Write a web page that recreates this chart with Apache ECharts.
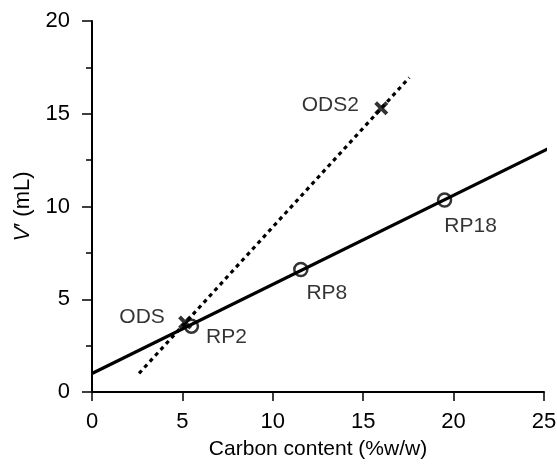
<!DOCTYPE html>
<html>
<head>
<meta charset="utf-8">
<script src="https://cdn.jsdelivr.net/npm/echarts@6/dist/echarts.min.js"></script>
<style>
  html, body { margin: 0; padding: 0; background: #fff; }
  #chart { width: 557px; height: 464px; }
</style>
</head>
<body>
<div id="chart"></div>
<script>
// RP phases (circles)
var rpNames = ['RP2', 'RP8', 'RP18'];
var rpCarbon = [5.5, 11.55, 19.5];
var rpV = [3.55, 6.6, 10.35];

// ODS phases (crosses)
var odsNames = ['ODS', 'ODS2'];
var odsCarbon = [5.15, 16.0];
var odsV = [3.75, 15.3];

// fitted lines, end points
var rpFitX = [0, 25.4];
var rpFitY = [1.0, 13.2];
var odsFitX = [2.6, 17.55];
var odsFitY = [1.0, 16.95];

var xTicks = [0, 5, 10, 15, 20, 25];
var yTicks = [0, 5, 10, 15, 20];

// label placement (px offsets from the marker)
var rpLabelOffset = [[35, 11], [26, 24], [26, 26]];
var odsLabelOffset = [[-43, -5], [-51, -3]];

var FONT = '"Liberation Sans", Arial, sans-serif';
var crossPath = 'path://M2,0 L5,3 L8,0 L10,2 L7,5 L10,8 L8,10 L5,7 L2,10 L0,8 L3,5 L0,2 Z';

function pairs(xs, ys) {
    return xs.map(function (x, i) { return [x, ys[i]]; });
}

function points(names, xs, ys, offsets) {
    return names.map(function (n, i) {
        return {
            name: n,
            value: [xs[i], ys[i]],
            label: { offset: offsets[i] }
        };
    });
}

var labelStyle = {
    show: true,
    position: 'inside',
    formatter: '{b}',
    color: '#000',
    fontFamily: FONT,
    fontSize: 21
};

var axisLineStyle = { color: '#000', width: 2 };

var chart = echarts.init(document.getElementById('chart'));
chart.setOption({
    backgroundColor: '#fff',
    animation: false,
    grid: { left: 92, right: 13, top: 21, bottom: 72, containLabel: false, outerBoundsMode: 'none' },
    xAxis: {
        type: 'value',
        min: xTicks[0],
        max: xTicks[xTicks.length - 1],
        interval: 5,
        name: 'Carbon content (%w/w)',
        nameLocation: 'middle',
        nameGap: 47,
        nameTextStyle: { color: '#000', fontFamily: FONT, fontSize: 21 },
        axisLine: { lineStyle: axisLineStyle },
        axisTick: { length: 9, lineStyle: { color: '#000', width: 1.5 } },
        axisLabel: { color: '#000', fontFamily: FONT, fontSize: 22, margin: 19 },
        splitLine: { show: false }
    },
    yAxis: {
        type: 'value',
        min: yTicks[0],
        max: yTicks[yTicks.length - 1],
        interval: 5,
        name: '{i|V}′ (mL)',
        nameLocation: 'middle',
        nameGap: 58,
        nameTextStyle: {
            color: '#000', fontFamily: FONT, fontSize: 22,
            rich: { i: { fontStyle: 'italic', fontFamily: FONT, fontSize: 22, color: '#000' } }
        },
        axisLine: { lineStyle: axisLineStyle },
        axisTick: { length: 10, lineStyle: { color: '#000', width: 1.5 } },
        minorTick: { show: true, splitNumber: 2, length: 6, lineStyle: { color: '#000', width: 1.5 } },
        axisLabel: { color: '#000', fontFamily: FONT, fontSize: 22, margin: 22 },
        splitLine: { show: false }
    },
    series: [
        {
            type: 'line',
            clip: false,
            symbol: 'none',
            data: pairs(rpFitX, rpFitY),
            lineStyle: { color: '#000', width: 3.2 }
        },
        {
            type: 'line',
            clip: false,
            symbol: 'none',
            data: pairs(odsFitX, odsFitY),
            lineStyle: { color: '#000', width: 3.2, type: [4, 4] }
        },
        {
            type: 'scatter',
            symbol: 'circle',
            symbolSize: 13,
            itemStyle: { color: '#fff', borderColor: '#000', borderWidth: 2.5 },
            label: labelStyle,
            data: points(rpNames, rpCarbon, rpV, rpLabelOffset)
        },
        {
            type: 'scatter',
            symbol: crossPath,
            symbolSize: 14,
            itemStyle: { color: '#000' },
            label: labelStyle,
            data: points(odsNames, odsCarbon, odsV, odsLabelOffset)
        }
    ]
});
</script>
</body>
</html>
